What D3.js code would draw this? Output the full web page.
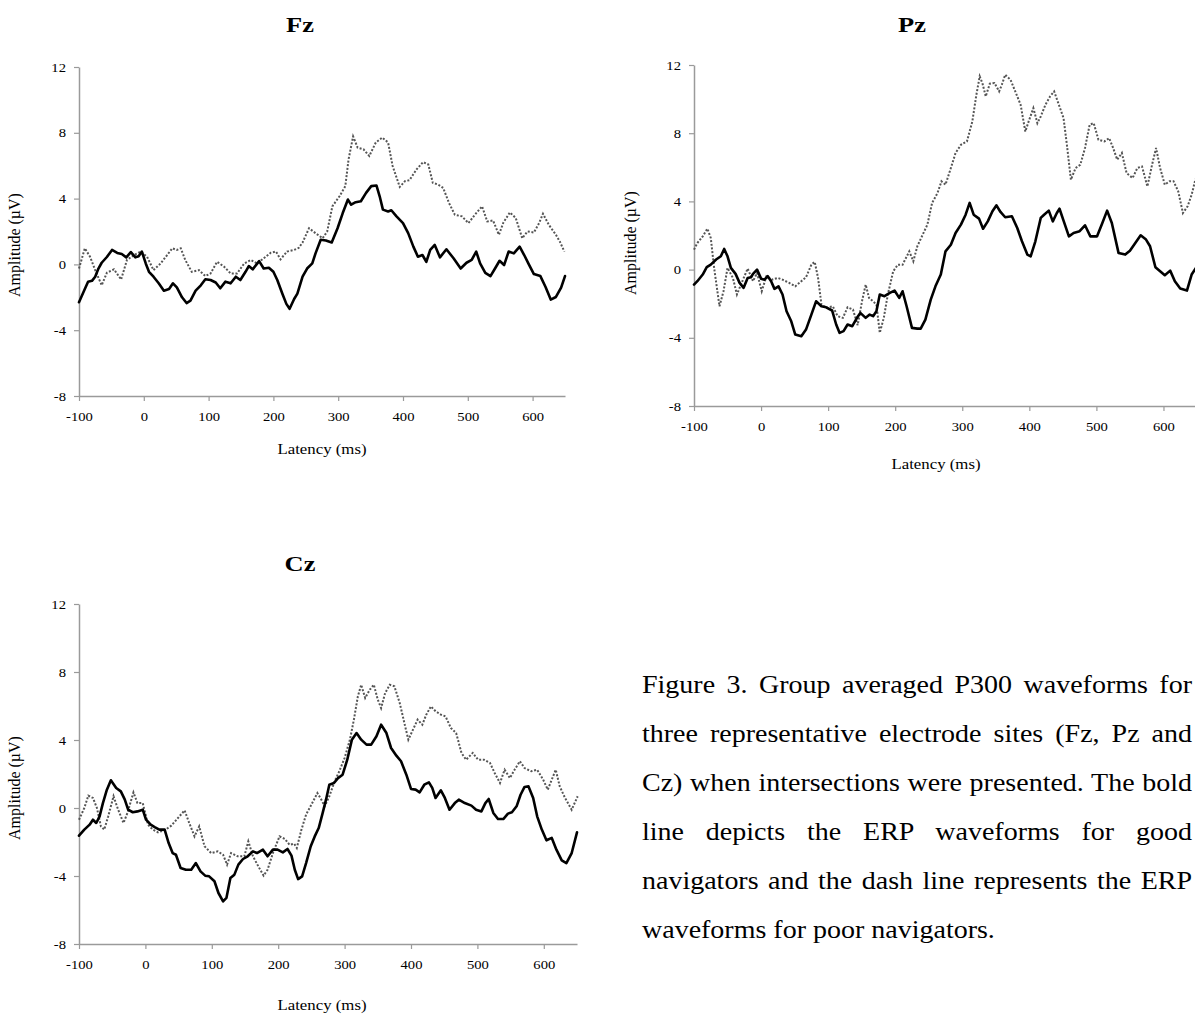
<!DOCTYPE html>
<html>
<head>
<meta charset="utf-8">
<script src="https://cdn.jsdelivr.net/npm/d3@7"></script>
<style>
  html, body { margin: 0; padding: 0; background: #fff; }
  svg { display: block; }
</style>
</head>
<body>
<svg id="fig" width="1195" height="1017"></svg>
<script>
// Axis tick values shared by all three electrode panels
const latencyTicks = [-100, 0, 100, 200, 300, 400, 500, 600];
const amplitudeTicks = [-8, -4, 0, 4, 8, 12];
const latencyDomain = [-100, 650];
const amplitudeDomain = [-8, 12];

// Grand-average waveforms: [latency (ms), amplitude (µV)]
// "good" = good navigators (bold line), "poor" = poor navigators (dotted line)
const fzGood = [[-100,-2.3],[-91,-1.5],[-86,-1.05],[-80,-1.0],[-75,-0.75],[-70,-0.25],[-65,0.1],[-57,0.45],[-49,0.88],[-41,0.7],[-34,0.63],[-27,0.43],[-20,0.75],[-13,0.43],[-8,0.5],[-3,0.78],[3,0.06],[8,-0.45],[15,-0.75],[23,-1.15],[31,-1.6],[39,-1.5],[45,-1.15],[51,-1.4],[59,-2.0],[66,-2.35],[72,-2.2],[80,-1.6],[88,-1.27],[95,-0.9],[103,-0.95],[111,-1.1],[118,-1.45],[126,-1.05],[134,-1.15],[142,-0.75],[149,-0.95],[157,-0.45],[162,-0.1],[168,-0.3],[178,0.2],[185,-0.25],[193,-0.2],[200,-0.45],[206,-0.95],[214,-1.8],[220,-2.4],[225,-2.7],[232,-2.1],[237,-1.78],[245,-0.75],[252,-0.25],[260,0.06],[265,0.67],[273,1.5],[281,1.45],[290,1.33],[299,2.2],[307,3.12],[315,3.94],[320,3.63],[327,3.78],[335,3.84],[343,4.35],[351,4.76],[359,4.8],[364,4.14],[369,3.33],[377,3.22],[382,3.29],[390,2.92],[400,2.51],[408,1.9],[416,1.08],[423,0.47],[430,0.57],[436,0.16],[442,0.88],[449,1.18],[457,0.43],[467,0.92],[478,0.37],[489,-0.25],[498,0.1],[506,0.27],[513,0.78],[519,0.06],[527,-0.51],[535,-0.71],[542,-0.25],[549,0.22],[556,-0.04],[563,0.78],[571,0.67],[580,1.08],[587,0.57],[594,0.02],[602,-0.59],[612,-0.71],[620,-1.37],[628,-2.14],[636,-1.98],[644,-1.41],[650,-0.71]];
const fzPoor = [[-100,-0.25],[-91,0.98],[-83,0.47],[-75,-0.35],[-65,-1.27],[-57,-0.51],[-46,-0.3],[-35,-0.92],[-26,0.27],[-15,0.57],[-5,0.78],[5,0.47],[15,-0.35],[26,0.06],[36,0.57],[44,0.98],[51,0.88],[57,0.98],[64,0.27],[74,-0.45],[85,-0.35],[95,-0.71],[103,-0.55],[113,0.16],[124,-0.14],[134,-0.55],[144,-0.55],[155,0.06],[165,0.27],[175,0.06],[185,0.37],[196,0.71],[204,0.78],[211,0.31],[221,0.78],[232,0.88],[239,1.0],[245,1.33],[255,2.2],[265,1.9],[276,1.59],[283,2.0],[291,3.53],[302,4.14],[311,4.76],[316,6.39],[323,7.78],[330,7.1],[339,7.0],[348,6.59],[358,7.41],[368,7.71],[377,7.41],[384,5.98],[395,4.71],[403,5.06],[410,5.12],[421,5.78],[431,6.22],[439,6.08],[446,4.96],[454,4.86],[462,4.65],[471,3.73],[480,3.02],[491,2.92],[501,2.51],[511,3.02],[522,3.53],[530,2.61],[539,2.67],[548,1.8],[555,2.55],[565,3.16],[574,2.82],[584,1.59],[592,2.0],[602,1.94],[610,2.51],[616,3.08],[625,2.41],[636,1.8],[642,1.39],[649,0.78]];

const pzGood = [[-100,-0.88],[-95,-0.68],[-87,-0.29],[-81,0.14],[-75,0.29],[-67,0.59],[-60,0.78],[-55,1.21],[-50,0.78],[-45,0.1],[-38,-0.25],[-32,-0.78],[-26,-1.07],[-20,-0.49],[-15,-0.45],[-12,-0.25],[-6,0],[0,-0.53],[5,-0.59],[10,-0.39],[15,-0.68],[20,-1.13],[26,-0.98],[32,-1.46],[38,-2.44],[45,-3.03],[51,-3.81],[60,-3.91],[67,-3.52],[75,-2.64],[82,-1.86],[90,-2.15],[97,-2.21],[106,-2.4],[112,-3.22],[117,-3.71],[123,-3.61],[129,-3.22],[136,-3.32],[143,-2.83],[148,-2.54],[156,-2.83],[162,-2.64],[167,-2.73],[172,-2.44],[177,-1.46],[184,-1.56],[192,-1.37],[199,-1.23],[206,-1.66],[211,-1.27],[217,-2.15],[225,-3.42],[233,-3.46],[238,-3.46],[245,-2.93],[253,-1.76],[260,-0.98],[268,-0.29],[275,1.07],[283,1.46],[290,2.15],[298,2.64],[305,3.22],[311,3.91],[317,3.22],[325,2.99],[331,2.4],[338,2.83],[345,3.42],[351,3.77],[357,3.38],[364,3.07],[374,3.13],[382,2.44],[389,1.66],[397,0.88],[402,0.78],[409,1.66],[417,3.03],[422,3.22],[429,3.46],[435,2.83],[441,3.32],[445,3.57],[451,2.87],[459,1.95],[466,2.15],[475,2.25],[483,2.6],[491,1.95],[501,1.95],[508,2.64],[516,3.46],[523,2.73],[533,0.98],[543,0.88],[550,1.11],[558,1.56],[566,2.01],[574,1.76],[580,1.37],[588,0.14],[595,-0.1],[602,-0.33],[610,-0.06],[617,-0.68],[625,-1.11],[635,-1.23],[642,-0.29],[650,0.2]];
const pzPoor = [[-100,1.17],[-95,1.56],[-87,1.95],[-80,2.4],[-75,1.86],[-70,0.1],[-62,-2.15],[-56,-1.27],[-50,0.1],[-42,-0.49],[-36,-1.46],[-30,-0.88],[-20,0.06],[-12,-0.68],[-6,-0.2],[1,-1.27],[8,-0.39],[16,-0.59],[25,-0.49],[32,-0.59],[42,-0.78],[51,-0.98],[60,-0.68],[67,-0.45],[75,0.29],[80,0.45],[85,-0.49],[90,-2.05],[97,-2.25],[107,-2.15],[114,-2.73],[122,-2.83],[129,-2.21],[137,-2.34],[144,-3.26],[151,-1.76],[156,-0.88],[161,-1.66],[167,-1.86],[172,-2.05],[177,-3.71],[183,-2.83],[189,-1.46],[197,-0.1],[204,0.29],[211,0.29],[216,0.68],[221,1.07],[227,0.49],[233,1.37],[241,2.05],[248,2.64],[255,3.91],[263,4.49],[269,5.18],[275,4.98],[283,5.96],[290,6.84],[298,7.32],[307,7.52],[315,8.69],[321,10.25],[326,11.33],[330,10.94],[335,10.16],[341,10.9],[348,10.94],[355,10.45],[359,10.84],[364,11.43],[372,11.13],[379,10.45],[387,9.67],[394,8.1],[399,8.69],[406,9.47],[412,8.59],[417,8.98],[424,9.67],[431,10.16],[437,10.45],[444,9.67],[451,8.89],[456,7.32],[462,5.27],[469,5.96],[476,6.15],[483,7.13],[490,8.5],[496,8.59],[503,7.62],[512,7.52],[519,7.71],[525,7.13],[531,6.45],[538,6.84],[545,5.66],[554,5.37],[561,5.96],[568,6.05],[576,4.88],[583,6.15],[589,7.13],[595,5.96],[602,4.98],[609,5.18],[615,5.18],[622,4.59],[629,3.32],[636,3.71],[642,4.39],[647,5.18],[650,5.5]];

const czGood = [[-100,-1.63],[-92,-1.27],[-84,-0.98],[-79,-0.69],[-74,-0.88],[-69,-0.49],[-64,0.29],[-58,1.08],[-52,1.63],[-44,1.18],[-37,0.98],[-31,0.49],[-26,-0.1],[-19,-0.25],[-12,-0.2],[-4,-0.1],[1,-0.69],[8,-0.98],[14,-1.12],[21,-1.27],[29,-1.27],[35,-2.06],[41,-2.65],[46,-2.75],[53,-3.53],[61,-3.63],[69,-3.63],[76,-3.24],[83,-3.73],[90,-3.98],[96,-4.02],[104,-4.31],[110,-5.0],[117,-5.49],[122,-5.29],[128,-4.12],[134,-3.92],[140,-3.33],[147,-3.0],[154,-2.84],[162,-2.55],[168,-2.65],[177,-2.45],[184,-2.84],[192,-2.45],[199,-2.45],[207,-2.61],[214,-2.41],[220,-2.8],[225,-3.63],[230,-4.18],[236,-4.02],[242,-3.24],[249,-2.25],[255,-1.67],[261,-1.18],[267,-0.29],[272,0.49],[277,1.37],[284,1.47],[290,1.76],[297,1.96],[304,2.84],[311,4.02],[318,4.41],[325,4.02],[333,3.73],[340,3.73],[348,4.22],[355,4.9],[363,4.41],[370,3.53],[378,3.08],[385,2.75],[393,1.96],[400,1.12],[407,1.08],[413,0.92],[420,1.37],[427,1.51],[432,1.18],[437,0.59],[445,1.04],[451,0.59],[458,-0.1],[466,0.29],[472,0.49],[481,0.29],[491,0.14],[498,-0.1],[506,-0.2],[512,0.29],[517,0.53],[524,-0.29],[531,-0.65],[539,-0.65],[546,-0.33],[552,-0.25],[559,0.1],[565,0.78],[571,1.24],[577,1.27],[584,0.59],[590,-0.49],[597,-1.27],[604,-1.9],[612,-1.76],[619,-2.45],[627,-3.08],[634,-3.24],[642,-2.65],[650,-1.43]];
const czPoor = [[-100,-0.69],[-92,0],[-86,0.73],[-79,0.59],[-73,0],[-67,-1.08],[-62,-1.27],[-56,-0.49],[-48,0.69],[-41,-0.1],[-33,-0.88],[-27,-0.29],[-18,0.92],[-12,0.29],[-4,0.29],[4,-0.98],[11,-1.27],[19,-1.43],[29,-1.31],[39,-1.04],[49,-0.59],[59,-0.14],[66,-0.88],[74,-1.67],[81,-1.08],[89,-2.25],[99,-2.65],[109,-2.55],[117,-2.75],[123,-3.33],[129,-2.65],[139,-2.84],[149,-2.84],[155,-1.96],[162,-2.84],[170,-3.43],[178,-3.98],[184,-3.63],[192,-2.65],[202,-1.67],[210,-1.82],[217,-2.16],[224,-2.1],[228,-2.35],[235,-1.27],[242,-0.39],[250,0.2],[259,0.88],[265,0.49],[270,0.1],[277,0.69],[285,1.57],[292,2.16],[300,2.94],[308,4.02],[314,5.2],[320,6.57],[325,7.25],[331,6.47],[338,6.96],[344,7.25],[350,6.37],[355,5.88],[361,6.76],[368,7.25],[375,7.16],[383,6.18],[390,5.0],[396,4.02],[403,4.61],[410,5.2],[417,4.9],[423,5.49],[430,5.98],[437,5.69],[445,5.49],[452,5.39],[460,4.71],[468,4.41],[476,3.24],[483,2.84],[493,3.24],[501,2.84],[510,2.84],[519,2.65],[526,2.06],[534,1.47],[541,2.25],[549,1.76],[556,2.25],[564,2.75],[571,2.35],[581,2.16],[590,2.25],[599,1.67],[606,1.08],[612,1.67],[618,2.25],[624,1.27],[632,0.59],[642,-0.1],[651,0.69]];

const panelNames = ["Fz", "Pz", "Cz"];
const xAxisTitle = "Latency (ms)";
const yAxisTitle = "Amplitude (µV)";

const captionLines = [
  "Figure 3. Group averaged P300 waveforms for",
  "three representative electrode sites (Fz, Pz and",
  "Cz) when intersections were presented. The bold",
  "line depicts the ERP waveforms for good",
  "navigators and the dash line represents the ERP",
  "waveforms for poor navigators."
];

// ---------- drawing ----------
const SERIF = "'Liberation Serif', 'Times New Roman', Times, serif";
const SX = 1.22; // glyphs are set slightly wide
const svg = d3.select("#fig");
svg.append("rect").attr("width", 1195).attr("height", 1017).attr("fill", "#fff");

// Text helper: horizontal stretch applied around the anchor point
function label(g, x, y, str, opts) {
  const o = Object.assign({ size: 14, anchor: "middle", weight: "normal", sx: SX, rotate: 0 }, opts || {});
  return g.append("text")
    .attr("transform", `translate(${x},${y}) scale(${o.sx},1)` + (o.rotate ? ` rotate(${o.rotate})` : ""))
    .attr("text-anchor", o.anchor)
    .attr("font-family", SERIF)
    .attr("font-size", o.size)
    .attr("font-weight", o.weight)
    .attr("fill", "#000")
    .text(str);
}

const panels = [
  { name: panelNames[0], good: fzGood, poor: fzPoor,
    x: [79, 565], y: [396, 67], titleX: 300, titleY: 32,
    xLabel: [322, 454], yLabel: [20, 245] },
  { name: panelNames[1], good: pzGood, poor: pzPoor,
    x: [694, 1197], y: [406, 65], titleX: 912, titleY: 32,
    xLabel: [936, 469], yLabel: [636, 243] },
  { name: panelNames[2], good: czGood, poor: czPoor,
    x: [79, 577], y: [944, 604], titleX: 300, titleY: 571,
    xLabel: [322, 1010], yLabel: [20, 788] }
];

const plainNumber = d => String(d); // hyphen-minus, as typeset

panels.forEach(p => {
  const g = svg.append("g");
  const x = d3.scaleLinear().domain(latencyDomain).range(p.x);
  const y = d3.scaleLinear().domain(amplitudeDomain).range(p.y);

  // y axis on the left edge
  const ya = g.append("g").attr("transform", `translate(${p.x[0]},0)`)
    .call(d3.axisLeft(y).tickValues(amplitudeTicks).tickSize(5).tickSizeOuter(0).tickFormat(plainNumber));
  // x axis along the bottom (amplitude -8)
  const xa = g.append("g").attr("transform", `translate(0,${p.y[0]})`)
    .call(d3.axisBottom(x).tickValues(latencyTicks).tickSize(5).tickSizeOuter(0).tickFormat(plainNumber));

  [ya, xa].forEach(a => {
    a.select(".domain").attr("stroke", "#9a9a9a").attr("stroke-width", 1.5);
    a.selectAll(".tick line").attr("stroke", "#9a9a9a").attr("stroke-width", 1.2);
    a.selectAll(".tick text")
      .attr("font-family", SERIF).attr("font-size", 12).attr("fill", "#000");
  });
  ya.selectAll(".tick text")
    .attr("x", null).attr("dy", null)
    .attr("text-anchor", "end")
    .attr("transform", `translate(-13,4) scale(${SX},1)`);
  xa.selectAll(".tick text")
    .attr("y", null).attr("dy", null)
    .attr("text-anchor", "middle")
    .attr("transform", `translate(0,25) scale(${SX},1)`);

  const line = d3.line().x(d => x(d[0])).y(d => y(d[1]));

  g.append("path").datum(p.poor)
    .attr("d", line)
    .attr("fill", "none").attr("stroke", "#555")
    .attr("stroke-width", 2).attr("stroke-dasharray", "2,1.7");

  g.append("path").datum(p.good)
    .attr("d", line)
    .attr("fill", "none").attr("stroke", "#000")
    .attr("stroke-width", 2.6).attr("stroke-linejoin", "round").attr("stroke-linecap", "round");

  label(svg, p.titleX, p.titleY, p.name, { size: 22, weight: "bold", sx: 1.2 });
  label(svg, p.xLabel[0], p.xLabel[1], xAxisTitle, { size: 15, sx: 1.12 });
  label(svg, p.yLabel[0], p.yLabel[1], yAxisTitle, { size: 16, sx: 1.0, rotate: -90 });
});

// Caption, justified to the right edge of the page
const capLeft = 642, capRight = 1192, capTop = 693, capLead = 49, capSize = 25, capSX = 1.12;
captionLines.forEach((t, i) => {
  const tx = label(svg, capLeft, capTop + i * capLead, t, { size: capSize, anchor: "start", sx: capSX });
  const natural = tx.node().getComputedTextLength();
  const target = (capRight - capLeft) / capSX;
  if (natural > target) {
    // tighten the column if a line would run past the page
    tx.attr("textLength", target).attr("lengthAdjust", "spacingAndGlyphs");
  } else if (i < captionLines.length - 1) {
    const gaps = t.split(" ").length - 1;
    tx.attr("word-spacing", (target - natural) / gaps);
  }
});
</script>
</body>
</html>
